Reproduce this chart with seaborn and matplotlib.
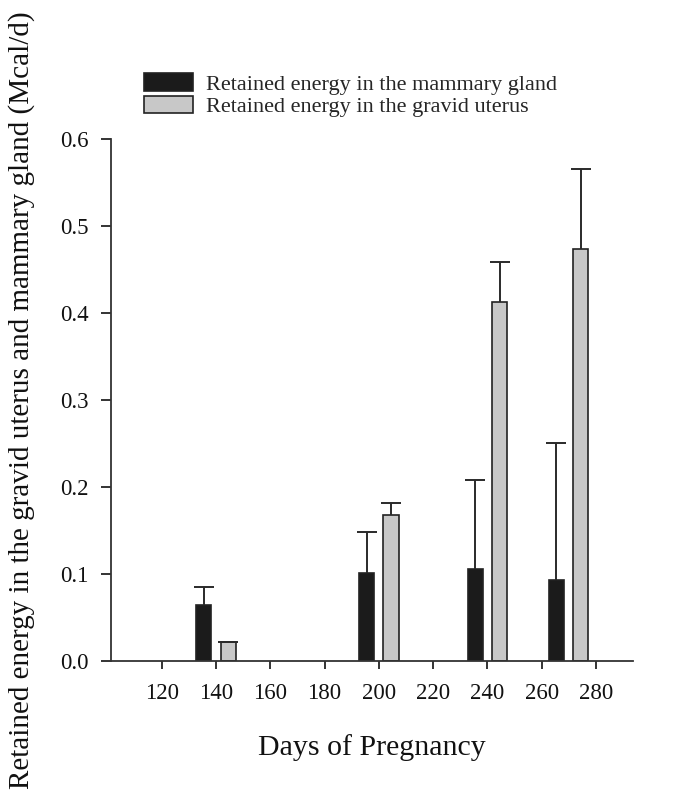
import numpy as np
import pandas as pd
import matplotlib
matplotlib.use('Agg')
import matplotlib.pyplot as plt
from matplotlib.patches import Patch
import seaborn as sns

# values
days = [140, 200, 240, 270]
mammary = [0.064, 0.101, 0.106, 0.093]
mammary_se = [0.021, 0.047, 0.102, 0.157]
uterus = [0.021, 0.168, 0.413, 0.474]
uterus_se = [0.001, 0.013, 0.045, 0.092]
series = ['Retained energy in the mammary gland', 'Retained energy in the gravid uterus']
xticks = [120, 140, 160, 180, 200, 220, 240, 260, 280]
yticks = [0.0, 0.1, 0.2, 0.3, 0.4, 0.5, 0.6]

colors = ['#1b1b1b', '#c8c8c8']

df = pd.DataFrame({
    'day': days + days,
    'value': mammary + uterus,
    'series': [series[0]] * len(days) + [series[1]] * len(days),
})
errs = [mammary_se, uterus_se]

sns.set_style('ticks')
plt.rcParams['font.family'] = ['Liberation Serif', 'DejaVu Serif']

fig = plt.figure(figsize=(7, 8.06), dpi=100)
ax = fig.add_axes([110.7 / 700, 1 - 660.7 / 806, (633 - 110.7) / 700, (660.7 - 139) / 806])

sns.barplot(data=df, x='day', y='value', hue='series', hue_order=series,
            palette=colors, native_scale=True, width=0.6, gap=0.38,
            errorbar=None, edgecolor='#222222', linewidth=1.2, legend=False, ax=ax)

# upper-only error bars, from the bars seaborn placed
for cont, se in zip(ax.containers, errs):
    xs = [b.get_x() + b.get_width() / 2 for b in cont]
    hs = [b.get_height() for b in cont]
    eb = ax.errorbar(xs, hs, yerr=[np.zeros(len(se)), se], fmt='none',
                     ecolor='#2a2a2a', elinewidth=1.4, capsize=7.5, capthick=1.4, zorder=1)
    eb[1][0].set_visible(False)  # hide the lower cap

ax.set_xlim(101.2, 293.7)
ax.set_ylim(0, 0.6)
ax.set_xticks(xticks)
ax.set_xticklabels([str(t) for t in xticks])
ax.set_yticks(yticks)
ax.set_yticklabels([f'{t:.1f}' for t in yticks])
ax.tick_params(axis='x', length=6, width=1.2, pad=10, labelsize=16.5, colors='#111111')
ax.tick_params(axis='y', length=7, width=1.2, pad=9, labelsize=16.5, colors='#111111')
for s in ['top', 'right']:
    ax.spines[s].set_visible(False)
for s in ['left', 'bottom']:
    ax.spines[s].set_linewidth(1.3)
    ax.spines[s].set_color('#333333')

ax.set_xlabel('Days of Pregnancy', fontsize=21.5, color='#111111')
ax.set_ylabel('Retained energy in the gravid uterus and mammary gland (Mcal/d)',
              fontsize=21, color='#111111')
ax.xaxis.set_label_coords(0.5, -0.14)
ax.yaxis.set_label_coords(-0.145, 0.5)

handles = [Patch(facecolor=c, edgecolor='#222222', linewidth=1.2) for c in colors]
ax.legend(handles, series, loc='upper left', bbox_to_anchor=(144 / 700, 1 - 73 / 806),
          bbox_transform=fig.transFigure, frameon=False, fontsize=16,
          handlelength=2.2, handleheight=0.85, handletextpad=0.6,
          labelspacing=0.05, borderpad=0, borderaxespad=0)

fig.savefig('out.png', dpi=100)
